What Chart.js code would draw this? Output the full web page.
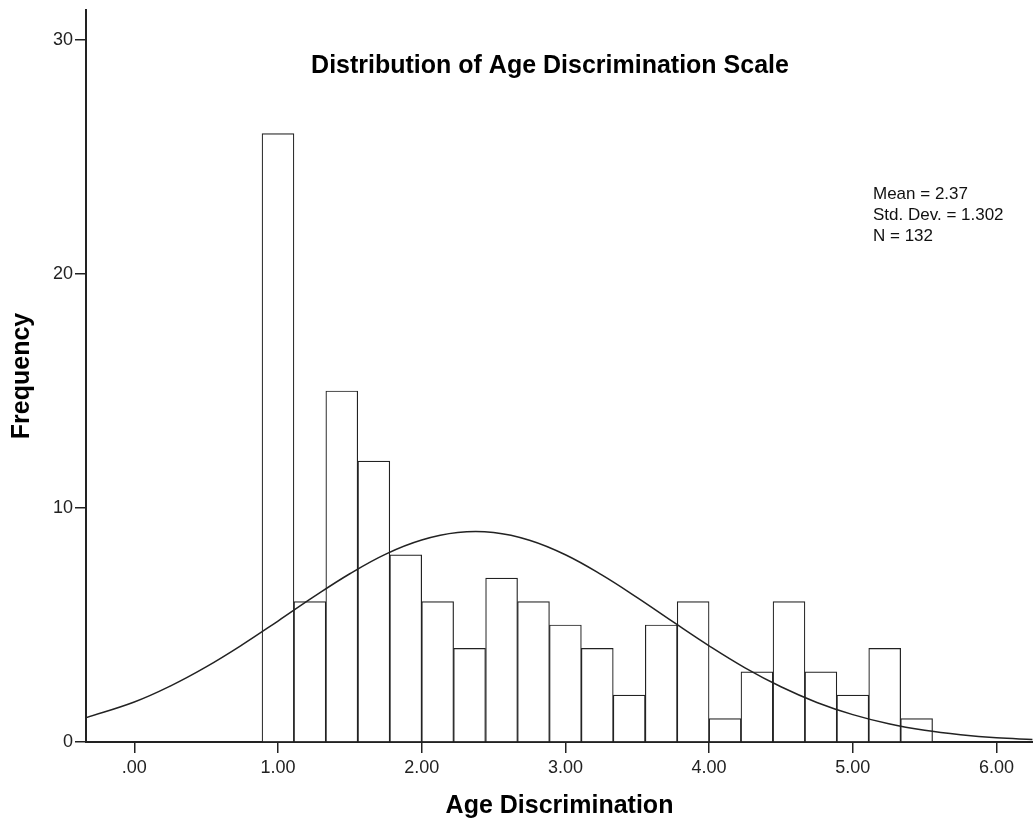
<!DOCTYPE html>
<html>
<head>
<meta charset="utf-8">
<script src="https://cdn.jsdelivr.net/npm/chart.js@4.4.0/dist/chart.umd.min.js"></script>
<style>
  body { margin: 0; background: #fff; }
  #wrap { width: 1033px; height: 825px; }
</style>
</head>
<body>
<div id="wrap"><canvas id="myChart" width="1033" height="825"></canvas></div>
<script>
// histogram bins (width 2/9), centers and counts
var binCenters = [1.000, 1.222, 1.444, 1.667, 1.889, 2.111, 2.333, 2.556, 2.778, 3.000,
  3.222, 3.444, 3.667, 3.889, 4.111, 4.333, 4.556, 4.778, 5.000, 5.222, 5.444];
var binCounts = [26, 6, 15, 12, 8, 6, 4, 7, 6, 5, 4, 2, 5, 6, 1, 3, 6, 3, 2, 4, 1];

// normal curve
var curveX = [-0.34, 0, 0.25, 0.5, 0.75, 1, 1.25, 1.5, 1.75, 2, 2.25, 2.5, 2.75, 3,
  3.25, 3.5, 3.75, 4, 4.25, 4.5, 4.75, 5, 5.25, 5.5, 5.75, 6, 6.25];
var curveY = [1.03, 1.71, 2.39, 3.21, 4.15, 5.17, 6.21, 7.19, 8.03, 8.63, 8.95, 8.95, 8.62, 8.00,
  7.15, 6.17, 5.13, 4.11, 3.17, 2.36, 1.69, 1.17, 0.78, 0.50, 0.31, 0.18, 0.11];

var xTicks = [0, 1, 2, 3, 4, 5, 6];
var yTicks = [0, 10, 20, 30];
var statLines = ["Mean = 2.37", "Std. Dev. = 1.302", "N = 132"];

var barPts = binCenters.map(function (x, i) { return { x: x, y: binCounts[i] }; });
var curvePts = curveX.map(function (x, i) { return { x: x, y: curveY[i] }; });

var FONT = "'Liberation Sans', Arial, sans-serif";

var textPlugin = {
  id: "textPlugin",
  afterDraw: function (chart) {
    var ctx = chart.ctx;
    ctx.save();
    ctx.fillStyle = "#000";
    ctx.font = "bold 25px " + FONT;
    ctx.textAlign = "center";
    ctx.textBaseline = "alphabetic";
    ctx.fillText("Distribution of Age Discrimination Scale", 550, 73);
    ctx.font = "17px " + FONT;
    ctx.fillStyle = "#111";
    ctx.textAlign = "left";
    statLines.forEach(function (s, i) {
      ctx.fillText(s, 873, 199 + i * 20.8);
    });
    ctx.restore();
  }
};

new Chart("myChart", {
  data: {
    datasets: [{
      type: "line",
      data: curvePts,
      borderColor: "#222",
      borderWidth: 1.5,
      pointRadius: 0,
      tension: 0.4,
      fill: false,
      order: 0
    }, {
      type: "bar",
      data: barPts,
      backgroundColor: "#fff",
      borderColor: "#222",
      borderWidth: 1.2,
      barPercentage: 1,
      categoryPercentage: 1,
      order: 1
    }]
  },
  options: {
    responsive: false,
    animation: false,
    devicePixelRatio: 1,
    layout: { padding: { top: 10, right: 0, left: 0, bottom: 0 } },
    plugins: { legend: { display: false }, tooltip: { enabled: false } },
    scales: {
      x: {
        type: "linear",
        offset: false,
        min: -0.336,
        max: 6.254,
        afterFit: function (s) { s.height = 83; s.paddingLeft = 0; s.paddingRight = 0; },
        afterBuildTicks: function (s) { s.ticks = xTicks.map(function (v) { return { value: v }; }); },
        ticks: {
          color: "#222",
          padding: 4,
          font: { size: 18, family: FONT },
          callback: function (v) { return v.toFixed(2).replace(/^0/, ""); }
        },
        grid: { offset: false, drawOnChartArea: false, drawTicks: true, tickLength: 11, color: "#222", lineWidth: 1.5 },
        border: { display: true, color: "#222", width: 2 },
        title: {
          display: true,
          text: "Age Discrimination",
          color: "#000",
          font: { size: 25, weight: "bold", family: FONT },
          padding: { top: 0, bottom: 4 }
        }
      },
      y: {
        type: "linear",
        min: 0,
        max: 31.28,
        afterFit: function (s) { s.width = 86; s.paddingTop = 0; s.paddingBottom = 0; },
        afterBuildTicks: function (s) { s.ticks = yTicks.map(function (v) { return { value: v }; }); },
        ticks: {
          color: "#222",
          padding: 2,
          font: { size: 18, family: FONT }
        },
        grid: { drawOnChartArea: false, drawTicks: true, tickLength: 11, color: "#222", lineWidth: 1.5 },
        border: { display: true, color: "#222", width: 2 },
        title: {
          display: true,
          text: "Frequency",
          color: "#000",
          font: { size: 25, weight: "bold", family: FONT },
          padding: { top: 7, bottom: 0 }
        }
      }
    }
  },
  plugins: [textPlugin]
});
</script>
</body>
</html>
